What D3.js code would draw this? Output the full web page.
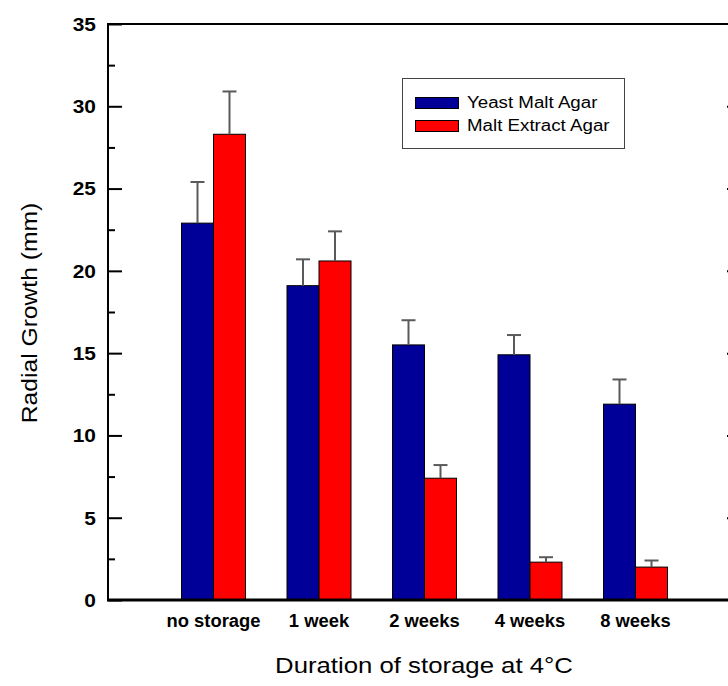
<!DOCTYPE html>
<html>
<head>
<meta charset="utf-8">
<script src="https://cdn.jsdelivr.net/npm/d3@7"></script>
<style>
  html, body { margin: 0; padding: 0; background: #fff; overflow: hidden; }
  svg { display: block; font-family: Arial, "Liberation Sans", Helvetica, sans-serif; }
</style>
</head>
<body>
<svg id="chart" width="728" height="686"></svg>
<script>
// Radial growth of cultures after storage at 4 °C, two agar media
const categories = ["no storage", "1 week", "2 weeks", "4 weeks", "8 weeks"];
const seriesNames = ["Yeast Malt Agar", "Malt Extract Agar"];
const yeastMalt = [22.9, 19.1, 15.5, 14.9, 11.9];
const yeastMaltErr = [2.5, 1.6, 1.5, 1.2, 1.5];
const maltExtract = [28.3, 20.6, 7.4, 2.3, 2.0];
const maltExtractErr = [2.6, 1.8, 0.8, 0.3, 0.4];
const yTicks = [0, 5, 10, 15, 20, 25, 30, 35];
const yMinorTicks = [2.5, 7.5, 12.5, 17.5, 22.5, 27.5, 32.5];
const colors = ["#000099", "#ff0000"];

const svg = d3.select("#chart");
const plotLeft = 108, plotRight = 741, plotTop = 24, plotBottom = 600;

const y = d3.scaleLinear().domain([0, 35]).range([plotBottom, plotTop]);
// categories sit at slots 1..5 of a 0..6 axis
const x = d3.scaleLinear().domain([0, 6]).range([plotLeft, plotRight]);
const barW = 32;

const series = [
  { name: seriesNames[0], values: yeastMalt, err: yeastMaltErr, color: colors[0], offset: -1 },
  { name: seriesNames[1], values: maltExtract, err: maltExtractErr, color: colors[1], offset: 0 }
];

// bars with upper error bars
series.forEach(s => {
  const g = svg.append("g");
  g.selectAll("rect").data(s.values).join("rect")
    .attr("x", (d, i) => x(i + 1) + s.offset * barW)
    .attr("y", d => y(d))
    .attr("width", barW)
    .attr("height", d => y(0) - y(d))
    .attr("fill", s.color)
    .attr("stroke", "#000")
    .attr("stroke-width", 1);
  const eb = svg.append("g").attr("stroke", "#5a5a5a").attr("stroke-width", 2);
  s.values.forEach((d, i) => {
    const cx = x(i + 1) + s.offset * barW + barW / 2;
    eb.append("line").attr("x1", cx).attr("x2", cx).attr("y1", y(d)).attr("y2", y(d + s.err[i]));
    eb.append("line").attr("x1", cx - 7).attr("x2", cx + 7).attr("y1", y(d + s.err[i])).attr("y2", y(d + s.err[i]));
  });
});

// frame: left axis, top line, baseline (the right edge lies past the page)
const frame = svg.append("g").attr("stroke", "#000").attr("stroke-width", 2).attr("fill", "none");
frame.append("line").attr("x1", plotLeft).attr("x2", plotLeft).attr("y1", plotTop - 1).attr("y2", plotBottom + 1);
frame.append("line").attr("x1", plotLeft - 1).attr("x2", plotRight).attr("y1", plotTop).attr("y2", plotTop);
frame.append("line").attr("x1", plotLeft - 1).attr("x2", plotRight).attr("y1", plotBottom).attr("y2", plotBottom).attr("stroke-width", 3);

function tickAxis(axisFn, pos, values, size) {
  const g = svg.append("g").attr("transform", `translate(${pos},0)`)
    .call(axisFn(y).tickValues(values).tickSize(size).tickFormat(""));
  g.select(".domain").remove();
  g.selectAll(".tick line").attr("stroke-width", 2);
}
// ticks pointing inward on both sides
tickAxis(d3.axisRight, plotLeft, yTicks, 14);
tickAxis(d3.axisRight, plotLeft, yMinorTicks, 7);
tickAxis(d3.axisLeft, plotRight, yTicks.filter(v => v > 0 && v < 35), 14);

// widen regular text slightly to the face used in the figure
function stretch(sel, f) {
  sel.each(function () {
    const w = this.getComputedTextLength();
    d3.select(this).attr("textLength", w * f).attr("lengthAdjust", "spacingAndGlyphs");
  });
}

// y tick labels
const yl = svg.append("g").selectAll("text").data(yTicks).join("text")
  .attr("x", 96)
  .attr("y", d => y(d))
  .attr("dy", "0.36em")
  .attr("text-anchor", "end")
  .attr("font-size", 19)
  .attr("font-weight", "bold")
  .text(d => d);
stretch(yl, 1.1);

// category labels
const cl = svg.append("g").selectAll("text").data(categories).join("text")
  .attr("x", (d, i) => x(i + 1))
  .attr("y", 627)
  .attr("text-anchor", "middle")
  .attr("font-size", 17.5)
  .attr("font-weight", "bold")
  .text(d => d);
stretch(cl, 1.05);

// axis titles
const xt = svg.append("text")
  .attr("x", 424).attr("y", 673)
  .attr("text-anchor", "middle")
  .attr("font-size", 22)
  .text("Duration of storage at 4°C");
stretch(xt, 1.17);
const yt = svg.append("text")
  .attr("transform", "translate(37,313) rotate(-90)")
  .attr("text-anchor", "middle")
  .attr("font-size", 22)
  .text("Radial Growth (mm)");
stretch(yt, 1.12);

// legend
const lg = svg.append("g");
lg.append("rect").attr("x", 402.5).attr("y", 78.5).attr("width", 222).attr("height", 70)
  .attr("fill", "#fff").attr("stroke", "#444").attr("stroke-width", 1);
series.forEach((s, i) => {
  lg.append("rect").attr("x", 415.5).attr("y", 97.5 + i * 23).attr("width", 43).attr("height", 11)
    .attr("fill", s.color).attr("stroke", "#000").attr("stroke-width", 1);
  const t = lg.append("text").attr("x", 467).attr("y", 108 + i * 23)
    .attr("font-size", 16).text(s.name);
  stretch(t, 1.17);
});
</script>
</body>
</html>
